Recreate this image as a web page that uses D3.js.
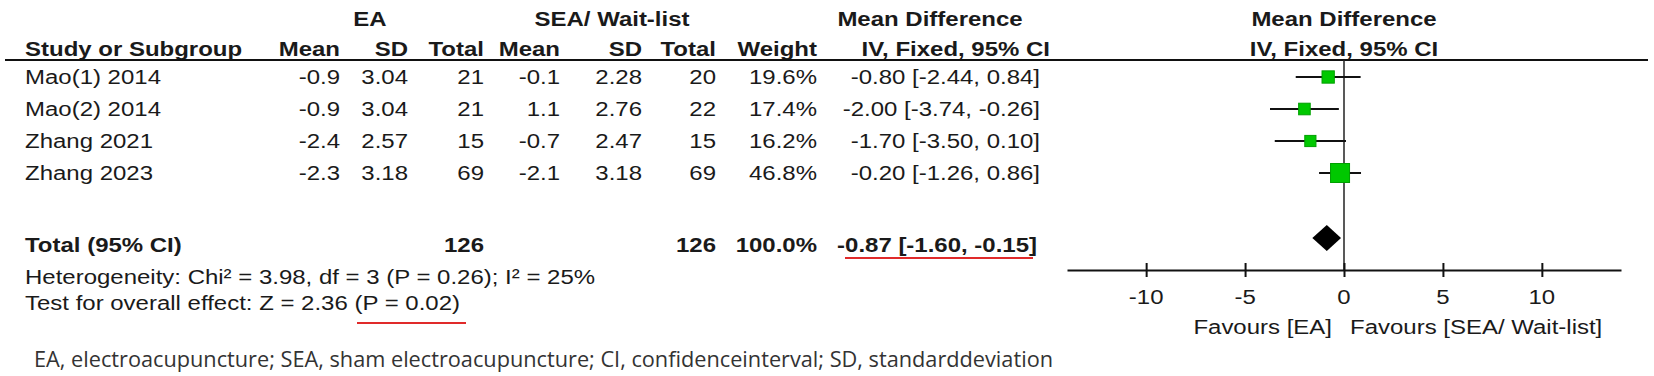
<!DOCTYPE html>
<html>
<head>
<meta charset="utf-8">
<script src="https://cdn.jsdelivr.net/npm/d3@7"></script>
<style>
  html, body { margin: 0; padding: 0; background: #fff; }
  svg text { font-family: "Liberation Sans", Arial, sans-serif; fill: #1a1a1a; }
</style>
</head>
<body>
<div id="chart"></div>
<script>
// --- DATA ---
const studies   = ["Mao(1) 2014", "Mao(2) 2014", "Zhang 2021", "Zhang 2023"];
const eaMean    = [-0.9, -0.9, -2.4, -2.3];
const eaSD      = [3.04, 3.04, 2.57, 3.18];
const eaTotal   = [21, 21, 15, 69];
const seaMean   = [-0.1, 1.1, -0.7, -2.1];
const seaSD     = [2.28, 2.76, 2.47, 3.18];
const seaTotal  = [20, 22, 15, 69];
const weights   = [19.6, 17.4, 16.2, 46.8];
const md        = [-0.80, -2.00, -1.70, -0.20];
const ciLow     = [-2.44, -3.74, -3.50, -1.26];
const ciHigh    = [0.84, -0.26, 0.10, 0.86];
const pooled    = [-0.87, -1.60, -0.15];   // estimate, low, high
const groupTotals = [126, 126];
const axisTicks = [-10, -5, 0, 5, 10];

const W = 1654, H = 376;
const FS = 21, SX = 24 / 21;   // glyphs are wider than tall in the picture

const svg = d3.select("#chart").append("svg")
  .attr("width", W).attr("height", H);

// text helper: stretched horizontally like the reference
function txt(x, y, str, anchor, bold) {
  return svg.append("text")
    .attr("transform", `translate(${x},${y}) scale(${SX},1)`)
    .attr("text-anchor", anchor || "start")
    .attr("dy", "0.35em")
    .style("font-size", FS + "px")
    .style("font-weight", bold ? "bold" : "normal")
    .text(str);
}

const f1 = v => v.toFixed(1);
const f2 = v => v.toFixed(2);
const ciText = (m, lo, hi) => `${f2(m)} [${f2(lo)}, ${f2(hi)}]`;

// --- HEADERS ---
txt(370, 19, "EA", "middle", true);
txt(612, 19, "SEA/ Wait-list", "middle", true);
txt(930, 19, "Mean Difference", "middle", true);

const yH2 = 49;
txt(25, yH2, "Study or Subgroup", "start", true);
txt(340, yH2, "Mean", "end", true);
txt(408, yH2, "SD", "end", true);
txt(484, yH2, "Total", "end", true);
txt(560, yH2, "Mean", "end", true);
txt(642, yH2, "SD", "end", true);
txt(716, yH2, "Total", "end", true);
txt(817, yH2, "Weight", "end", true);
txt(1050, yH2, "IV, Fixed, 95% CI", "end", true);

// header rule
svg.append("line").attr("x1", 5).attr("x2", 1648).attr("y1", 60).attr("y2", 60)
  .attr("stroke", "#111").attr("stroke-width", 2);

// --- SCALES ---
const x = d3.scaleLinear().domain([-14, 14]).range([1067, 1621]);
const y = d3.scalePoint().domain(studies).range([77, 173]);
const boxSize = d3.scaleSqrt().domain([0, 46.8]).range([0, 19]);

// --- STUDY ROWS (table) ---
studies.forEach((s, i) => {
  const yy = y(s);
  txt(25, yy, s, "start");
  txt(340, yy, f1(eaMean[i]), "end");
  txt(408, yy, f2(eaSD[i]), "end");
  txt(484, yy, String(eaTotal[i]), "end");
  txt(560, yy, f1(seaMean[i]), "end");
  txt(642, yy, f2(seaSD[i]), "end");
  txt(716, yy, String(seaTotal[i]), "end");
  txt(817, yy, f1(weights[i]) + "%", "end");
  txt(1040, yy, ciText(md[i], ciLow[i], ciHigh[i]), "end");
});

// --- TOTAL ROW ---
const yTot = 245;
txt(25, yTot, "Total (95% CI)", "start", true);
txt(484, yTot, String(groupTotals[0]), "end", true);
txt(716, yTot, String(groupTotals[1]), "end", true);
txt(817, yTot, "100.0%", "end", true);
txt(1037, yTot, ciText(pooled[0], pooled[1], pooled[2]), "end", true);
svg.append("line").attr("x1", 845).attr("x2", 1033).attr("y1", 258).attr("y2", 258)
  .attr("stroke", "#e02a2a").attr("stroke-width", 2);

txt(25, 277, "Heterogeneity: Chi\u00b2 = 3.98, df = 3 (P = 0.26); I\u00b2 = 25%", "start");
txt(25, 303, "Test for overall effect: Z = 2.36 (P = 0.02)", "start");
svg.append("line").attr("x1", 357).attr("x2", 466).attr("y1", 323).attr("y2", 323)
  .attr("stroke", "#e02a2a").attr("stroke-width", 2);

// footnote
svg.append("text")
  .attr("x", 34).attr("y", 360).attr("dy", "0.35em")
  .attr("textLength", 1019).attr("lengthAdjust", "spacingAndGlyphs")
  .style("font-family", "'Open Sans', 'Noto Sans', sans-serif")
  .style("font-size", "21px").style("fill", "#333")
  .text("EA, electroacupuncture; SEA, sham electroacupuncture; CI, confidenceinterval; SD, standarddeviation");

// --- FOREST PLOT ---
txt(x(0), 19, "Mean Difference", "middle", true);
txt(x(0), yH2, "IV, Fixed, 95% CI", "middle", true);

const yAxis = 270;
// zero line
svg.append("line").attr("x1", x(0)).attr("x2", x(0)).attr("y1", 60).attr("y2", yAxis)
  .attr("stroke", "#222").attr("stroke-width", 1.5);

// CI whiskers
svg.selectAll(".ci").data(studies).enter().append("line")
  .attr("x1", (d, i) => x(ciLow[i])).attr("x2", (d, i) => x(ciHigh[i]))
  .attr("y1", d => y(d)).attr("y2", d => y(d))
  .attr("stroke", "#111").attr("stroke-width", 2);

// weight boxes
svg.selectAll(".box").data(studies).enter().append("rect")
  .attr("x", (d, i) => x(md[i]) - boxSize(weights[i]) / 2)
  .attr("y", (d, i) => y(d) - boxSize(weights[i]) / 2)
  .attr("width", (d, i) => boxSize(weights[i]))
  .attr("height", (d, i) => boxSize(weights[i]))
  .attr("fill", "#00c800").attr("stroke", "#00a000").attr("stroke-width", 1);

// pooled diamond
const yDia = 238, dh = 13;
svg.append("path")
  .attr("d", `M${x(pooled[1])},${yDia} L${x(pooled[0])},${yDia - dh} L${x(pooled[2])},${yDia} L${x(pooled[0])},${yDia + dh} Z`)
  .attr("fill", "#000");

// axis (ticks cross the line, no end ticks)
const axis = svg.append("g").attr("transform", `translate(0,${yAxis})`)
  .call(d3.axisBottom(x).tickValues(axisTicks).tickFormat(d => String(d))
    .tickSizeInner(7).tickSizeOuter(0));
axis.select(".domain").attr("stroke", "#111").attr("stroke-width", 2);
axis.selectAll(".tick line").attr("y1", -7).attr("y2", 7).attr("stroke", "#111").attr("stroke-width", 2);
axis.selectAll(".tick text").remove();
axisTicks.forEach(t => txt(x(t), 297, String(t), "middle"));

txt(x(0) - 12, 327, "Favours [EA]", "end");
txt(x(0) + 6, 327, "Favours [SEA/ Wait-list]", "start");
</script>
</body>
</html>
